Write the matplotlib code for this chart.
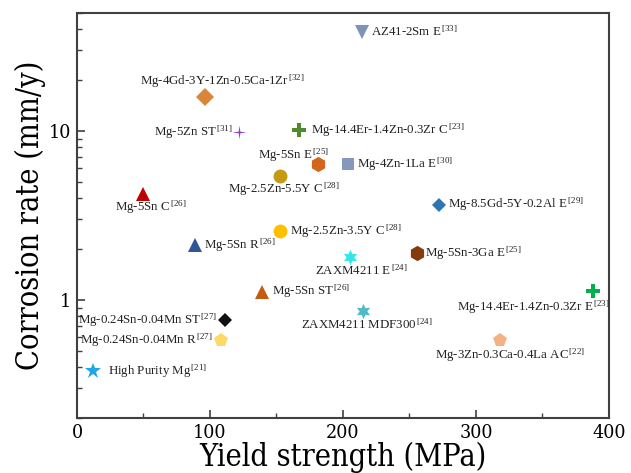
import numpy as np
import matplotlib
matplotlib.use("Agg")
import matplotlib.pyplot as plt
from matplotlib.path import Path
from matplotlib.ticker import LogLocator, NullFormatter, FixedLocator, FixedFormatter

# alloy data
names = ["AZ41-2Sm E", "Mg-4Gd-3Y-1Zn-0.5Ca-1Zr", "Mg-5Zn ST", "Mg-14.4Er-1.4Zn-0.3Zr C",
         "Mg-5Sn E", "Mg-4Zn-1La E", "Mg-2.5Zn-5.5Y C", "Mg-5Sn C",
         "Mg-8.5Gd-5Y-0.2Al E", "Mg-2.5Zn-3.5Y C", "Mg-5Sn R", "Mg-5Sn-3Ga E",
         "ZAXM4211 E", "Mg-5Sn ST", "Mg-14.4Er-1.4Zn-0.3Zr E", "ZAXM4211 MDF300",
         "Mg-0.24Sn-0.04Mn ST", "Mg-0.24Sn-0.04Mn R", "Mg-3Zn-0.3Ca-0.4La AC", "High Purity Mg"]
refs = [33, 32, 31, 23, 25, 30, 28, 26, 29, 28, 26, 25, 24, 26, 23, 24, 27, 27, 22, 21]
yield_strength = [214, 96, 122, 167, 181, 204, 153, 50, 272, 153, 89, 256,
                  205, 139, 388, 215, 111, 108, 318, 12]
corrosion_rate = [38.5, 15.9, 9.9, 10.1, 6.4, 6.4, 5.4, 4.25, 3.65, 2.55, 2.12, 1.9,
                  1.8, 1.12, 1.13, 0.86, 0.76, 0.58, 0.58, 0.38]

# thin four-point sparkle for Mg-5Zn ST
sparkle = Path([(0, 1), (0.12, 0.12), (1, 0), (0.12, -0.12), (0, -1),
                (-0.12, -0.12), (-1, 0), (-0.12, 0.12), (0, 1)])

markers = ["v", "D", sparkle, "P", "h", "s", "o", "^", "D", "o", "^", "h",
           (6, 1, 0), "^", "P", (6, 1, 0), "D", "p", "p", "*"]
colors = ["#7f93b5", "#d9863a", "#8e44c8", "#4e8b2e", "#d4661c", "#8497bd", "#c49a12", "#c00000",
          "#2e75b6", "#ffc000", "#2f5597", "#843c0c", "#33e6e6", "#c55a11", "#00b050", "#4bbcc8",
          "#111111", "#ffd966", "#f4b183", "#1ea7e8"]
sizes = [10, 9, 10, 10, 11, 8, 10, 10, 7, 10, 10, 11, 11, 10, 10, 11, 7, 10, 10, 12]

# label offsets in pixels (dx, dy) and horizontal alignment
offsets = [(9, 0, "left"), (-65, 16, "left"), (-85, -1, "left"), (12, 0, "left"),
           (-60, 8, "left"), (9, -1, "left"), (-52, -13, "left"), (-28, -14, "left"),
           (9, 1, "left"), (10, 0, "left"), (9, 0, "left"), (8, 0, "left"),
           (-35, -14, "left"), (10, 0, "left"), (-136, -16, "left"), (-62, -14, "left"),
           (-8, 0, "right"), (-8, 0, "right"), (-65, -15, "left"), (15, 0, "left")]

plt.rcParams["mathtext.fontset"] = "custom"
plt.rcParams["mathtext.rm"] = "Liberation Serif"
plt.rcParams["mathtext.it"] = "Liberation Serif"

fig = plt.figure(figsize=(6.31, 4.73), dpi=100)
ax = fig.add_axes([0.122, 0.116, 0.843, 0.857])

for i in range(len(names)):
    ax.plot(yield_strength[i], corrosion_rate[i], linestyle="none", marker=markers[i],
            color=colors[i], markersize=sizes[i], markeredgewidth=0)
    dx, dy, ha = offsets[i]
    ax.annotate(names[i] + r"$^{\,[%d]}$" % refs[i], (yield_strength[i], corrosion_rate[i]),
                xytext=(dx, dy), textcoords="offset pixels", ha=ha, va="center",
                fontsize=9.3, family="Liberation Serif", color="#222222")

ax.set_yscale("log")
ax.set_xlim(0, 400)
ax.set_ylim(0.2, 50)

ax.set_xticks([0, 100, 200, 300, 400])
ax.set_xticks([50, 150, 250, 350], minor=True)
ax.yaxis.set_major_locator(FixedLocator([1, 10]))
ax.yaxis.set_major_formatter(FixedFormatter(["1", "10"]))
ax.yaxis.set_minor_locator(LogLocator(base=10, subs=np.arange(2, 10)))
ax.yaxis.set_minor_formatter(NullFormatter())

ax.tick_params(which="both", direction="in", top=False, right=False, color="#404040")
ax.tick_params(which="major", length=6, width=1.2, labelsize=14, pad=4)
ax.tick_params(which="minor", length=3.5, width=1.0)
for lab in ax.get_xticklabels() + ax.get_yticklabels():
    lab.set_family("DejaVu Serif")
    lab.set_stretch("condensed")

for sp in ax.spines.values():
    sp.set_color("#404040")
    sp.set_linewidth(1.5)

ax.set_xlabel("Yield strength (MPa)", fontsize=22, family="DejaVu Serif",
              fontstretch="condensed", labelpad=0)
ax.set_ylabel("Corrosion rate (mm/y)", fontsize=22, family="DejaVu Serif",
              fontstretch="condensed", labelpad=2)

fig.savefig("out.png", dpi=100)
